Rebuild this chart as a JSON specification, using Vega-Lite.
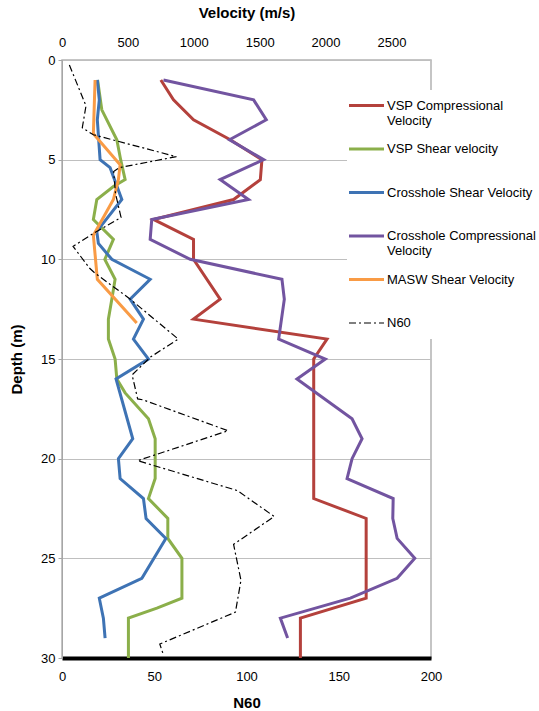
{
  "$schema": "https://vega.github.io/schema/vega-lite/v6.json",
  "autosize": {"type": "none"},
  "padding": {"left": 62, "top": 60, "right": 108, "bottom": 53},
  "width": 369,
  "height": 598,
  "config": {
    "font": "Liberation Sans",
    "view": {"stroke": "#B3B3B3", "strokeWidth": 1.5},
    "axis": {
      "labelFont": "Liberation Sans",
      "labelFontSize": 13,
      "labelColor": "#000",
      "labelFlush": false,
      "titleFont": "Liberation Sans",
      "titleFontSize": 15,
      "titleFontWeight": "bold",
      "titleColor": "#000",
      "gridColor": "#BFBFBF",
      "gridWidth": 1,
      "domainColor": "#A6A6A6",
      "tickColor": "#A6A6A6"
    }
  },
  "datasets": {
    "vel": [
      {"series": "VSP Compressional Velocity", "depth": 1, "v": 750},
      {"series": "VSP Compressional Velocity", "depth": 2, "v": 846},
      {"series": "VSP Compressional Velocity", "depth": 3, "v": 998},
      {"series": "VSP Compressional Velocity", "depth": 4, "v": 1277},
      {"series": "VSP Compressional Velocity", "depth": 5, "v": 1517},
      {"series": "VSP Compressional Velocity", "depth": 6, "v": 1505},
      {"series": "VSP Compressional Velocity", "depth": 7, "v": 1302},
      {"series": "VSP Compressional Velocity", "depth": 8, "v": 694},
      {"series": "VSP Compressional Velocity", "depth": 9, "v": 998},
      {"series": "VSP Compressional Velocity", "depth": 10, "v": 998},
      {"series": "VSP Compressional Velocity", "depth": 12, "v": 1200},
      {"series": "VSP Compressional Velocity", "depth": 13, "v": 998},
      {"series": "VSP Compressional Velocity", "depth": 14, "v": 2011},
      {"series": "VSP Compressional Velocity", "depth": 15, "v": 1910},
      {"series": "VSP Compressional Velocity", "depth": 22, "v": 1910},
      {"series": "VSP Compressional Velocity", "depth": 23, "v": 2308},
      {"series": "VSP Compressional Velocity", "depth": 27, "v": 2308},
      {"series": "VSP Compressional Velocity", "depth": 28, "v": 1809},
      {"series": "VSP Compressional Velocity", "depth": 30, "v": 1809},

      {"series": "VSP Shear velocity", "depth": 1, "v": 270},
      {"series": "VSP Shear velocity", "depth": 2.5, "v": 302},
      {"series": "VSP Shear velocity", "depth": 4, "v": 416},
      {"series": "VSP Shear velocity", "depth": 5, "v": 445},
      {"series": "VSP Shear velocity", "depth": 6, "v": 479},
      {"series": "VSP Shear velocity", "depth": 6.35, "v": 390},
      {"series": "VSP Shear velocity", "depth": 7, "v": 264},
      {"series": "VSP Shear velocity", "depth": 8, "v": 238},
      {"series": "VSP Shear velocity", "depth": 9, "v": 390},
      {"series": "VSP Shear velocity", "depth": 10, "v": 325},
      {"series": "VSP Shear velocity", "depth": 11, "v": 403},
      {"series": "VSP Shear velocity", "depth": 12, "v": 378},
      {"series": "VSP Shear velocity", "depth": 13, "v": 352},
      {"series": "VSP Shear velocity", "depth": 14, "v": 352},
      {"series": "VSP Shear velocity", "depth": 15, "v": 403},
      {"series": "VSP Shear velocity", "depth": 16, "v": 416},
      {"series": "VSP Shear velocity", "depth": 16.7, "v": 479},
      {"series": "VSP Shear velocity", "depth": 18, "v": 656},
      {"series": "VSP Shear velocity", "depth": 19, "v": 707},
      {"series": "VSP Shear velocity", "depth": 21, "v": 707},
      {"series": "VSP Shear velocity", "depth": 22, "v": 656},
      {"series": "VSP Shear velocity", "depth": 23, "v": 803},
      {"series": "VSP Shear velocity", "depth": 24, "v": 803},
      {"series": "VSP Shear velocity", "depth": 25, "v": 910},
      {"series": "VSP Shear velocity", "depth": 27, "v": 910},
      {"series": "VSP Shear velocity", "depth": 27.5, "v": 720},
      {"series": "VSP Shear velocity", "depth": 28, "v": 504},
      {"series": "VSP Shear velocity", "depth": 30, "v": 504},

      {"series": "Crosshole Shear Velocity", "depth": 1, "v": 268},
      {"series": "Crosshole Shear Velocity", "depth": 2, "v": 283},
      {"series": "Crosshole Shear Velocity", "depth": 3, "v": 268},
      {"series": "Crosshole Shear Velocity", "depth": 5, "v": 289},
      {"series": "Crosshole Shear Velocity", "depth": 5.4, "v": 365},
      {"series": "Crosshole Shear Velocity", "depth": 7, "v": 454},
      {"series": "Crosshole Shear Velocity", "depth": 8.6, "v": 264},
      {"series": "Crosshole Shear Velocity", "depth": 9.2, "v": 276},
      {"series": "Crosshole Shear Velocity", "depth": 10, "v": 378},
      {"series": "Crosshole Shear Velocity", "depth": 11, "v": 669},
      {"series": "Crosshole Shear Velocity", "depth": 12, "v": 517},
      {"series": "Crosshole Shear Velocity", "depth": 13, "v": 618},
      {"series": "Crosshole Shear Velocity", "depth": 14, "v": 542},
      {"series": "Crosshole Shear Velocity", "depth": 15, "v": 656},
      {"series": "Crosshole Shear Velocity", "depth": 16, "v": 410},
      {"series": "Crosshole Shear Velocity", "depth": 19, "v": 537},
      {"series": "Crosshole Shear Velocity", "depth": 20, "v": 428},
      {"series": "Crosshole Shear Velocity", "depth": 21, "v": 441},
      {"series": "Crosshole Shear Velocity", "depth": 22, "v": 618},
      {"series": "Crosshole Shear Velocity", "depth": 23, "v": 638},
      {"series": "Crosshole Shear Velocity", "depth": 24, "v": 788},
      {"series": "Crosshole Shear Velocity", "depth": 26, "v": 606},
      {"series": "Crosshole Shear Velocity", "depth": 27, "v": 283},
      {"series": "Crosshole Shear Velocity", "depth": 28, "v": 314},
      {"series": "Crosshole Shear Velocity", "depth": 29, "v": 327},

      {"series": "Crosshole Compressional Velocity", "depth": 1, "v": 770},
      {"series": "Crosshole Compressional Velocity", "depth": 2, "v": 1454},
      {"series": "Crosshole Compressional Velocity", "depth": 3, "v": 1550},
      {"series": "Crosshole Compressional Velocity", "depth": 4, "v": 1271},
      {"series": "Crosshole Compressional Velocity", "depth": 5, "v": 1530},
      {"series": "Crosshole Compressional Velocity", "depth": 6, "v": 1200},
      {"series": "Crosshole Compressional Velocity", "depth": 7, "v": 1415},
      {"series": "Crosshole Compressional Velocity", "depth": 8, "v": 681},
      {"series": "Crosshole Compressional Velocity", "depth": 9, "v": 669},
      {"series": "Crosshole Compressional Velocity", "depth": 10, "v": 973},
      {"series": "Crosshole Compressional Velocity", "depth": 11, "v": 1669},
      {"series": "Crosshole Compressional Velocity", "depth": 12, "v": 1687},
      {"series": "Crosshole Compressional Velocity", "depth": 14, "v": 1644},
      {"series": "Crosshole Compressional Velocity", "depth": 15, "v": 1998},
      {"series": "Crosshole Compressional Velocity", "depth": 16, "v": 1783},
      {"series": "Crosshole Compressional Velocity", "depth": 18, "v": 2201},
      {"series": "Crosshole Compressional Velocity", "depth": 19, "v": 2277},
      {"series": "Crosshole Compressional Velocity", "depth": 20, "v": 2201},
      {"series": "Crosshole Compressional Velocity", "depth": 21, "v": 2163},
      {"series": "Crosshole Compressional Velocity", "depth": 22, "v": 2513},
      {"series": "Crosshole Compressional Velocity", "depth": 23, "v": 2510},
      {"series": "Crosshole Compressional Velocity", "depth": 24, "v": 2543},
      {"series": "Crosshole Compressional Velocity", "depth": 25, "v": 2677},
      {"series": "Crosshole Compressional Velocity", "depth": 26, "v": 2543},
      {"series": "Crosshole Compressional Velocity", "depth": 27, "v": 2188},
      {"series": "Crosshole Compressional Velocity", "depth": 28, "v": 1657},
      {"series": "Crosshole Compressional Velocity", "depth": 29, "v": 1712},

      {"series": "MASW Shear Velocity", "depth": 1, "v": 251},
      {"series": "MASW Shear Velocity", "depth": 3.7, "v": 238},
      {"series": "MASW Shear Velocity", "depth": 5.25, "v": 441},
      {"series": "MASW Shear Velocity", "depth": 6, "v": 428},
      {"series": "MASW Shear Velocity", "depth": 7, "v": 390},
      {"series": "MASW Shear Velocity", "depth": 8.8, "v": 238},
      {"series": "MASW Shear Velocity", "depth": 11, "v": 268},
      {"series": "MASW Shear Velocity", "depth": 13.2, "v": 567}
    ],
    "n60": [
      {"series": "N60", "depth": 0.25, "n": 4},
      {"series": "N60", "depth": 2.3, "n": 13},
      {"series": "N60", "depth": 3.4, "n": 11},
      {"series": "N60", "depth": 3.75, "n": 17},
      {"series": "N60", "depth": 4.85, "n": 62},
      {"series": "N60", "depth": 5.4, "n": 31},
      {"series": "N60", "depth": 5.6, "n": 28},
      {"series": "N60", "depth": 6.7, "n": 29},
      {"series": "N60", "depth": 7.9, "n": 32},
      {"series": "N60", "depth": 8.7, "n": 17},
      {"series": "N60", "depth": 9.35, "n": 6},
      {"series": "N60", "depth": 10.45, "n": 15},
      {"series": "N60", "depth": 10.7, "n": 18},
      {"series": "N60", "depth": 12, "n": 37},
      {"series": "N60", "depth": 14, "n": 63},
      {"series": "N60", "depth": 14.9, "n": 48},
      {"series": "N60", "depth": 15.8, "n": 38},
      {"series": "N60", "depth": 17, "n": 41},
      {"series": "N60", "depth": 17.05, "n": 44},
      {"series": "N60", "depth": 18.6, "n": 90},
      {"series": "N60", "depth": 20.1, "n": 41},
      {"series": "N60", "depth": 21.6, "n": 95},
      {"series": "N60", "depth": 22.9, "n": 115},
      {"series": "N60", "depth": 24.3, "n": 93},
      {"series": "N60", "depth": 26.1, "n": 97},
      {"series": "N60", "depth": 27.7, "n": 94},
      {"series": "N60", "depth": 29.3, "n": 53},
      {"series": "N60", "depth": 29.85, "n": 55}
    ]
  },
  "layer": [
    {
      "data": {"name": "vel"},
      "mark": {"type": "line", "strokeWidth": 3},
      "encoding": {
        "x": {
          "field": "v",
          "type": "quantitative",
          "scale": {"domain": [0, 2800], "nice": false, "zero": false},
          "axis": {
            "orient": "top",
            "title": "Velocity (m/s)",
            "values": [0, 500, 1000, 1500, 2000, 2500],
            "format": "d",
            "grid": false,
            "ticks": false,
            "domain": false,
            "labelPadding": 11,
            "titlePadding": 16
          }
        },
        "y": {
          "field": "depth",
          "type": "quantitative",
          "scale": {"domain": [0, 30], "reverse": true, "nice": false},
          "axis": {
            "title": "Depth (m)",
            "values": [0, 5, 10, 15, 20, 25, 30],
            "grid": true,
            "tickSize": 4,
            "labelPadding": 3,
            "titlePadding": 16
          }
        },
        "color": {
          "field": "series",
          "type": "nominal",
          "scale": {
            "domain": ["VSP Compressional Velocity", "VSP Shear velocity", "Crosshole Shear Velocity", "Crosshole Compressional Velocity", "MASW Shear Velocity", "N60"],
            "range": ["#B4413C", "#8BAF4A", "#3E73B4", "#7254A0", "#F99B45", "#000000"]
          },
          "legend": {
            "orient": "none",
            "legendX": 285,
            "legendY": 30,
            "title": null,
            "fillColor": "white",
            "padding": 9,
            "symbolType": "stroke",
            "symbolSize": 1225,
            "symbolStrokeWidth": 3,
            "symbolOffset": 4,
            "labelOffset": 14,
            "labelFont": "Liberation Sans",
            "labelFontSize": 13,
            "labelColor": "#000",
            "labelLimit": 250,
            "gridAlign": "all",
            "rowPadding": 14.5,
            "labelExpr": "datum.label == 'VSP Compressional Velocity' ? ['VSP Compressional', 'Velocity'] : datum.label == 'Crosshole Compressional Velocity' ? ['Crosshole Compressional', 'Velocity'] : datum.label",
            "encode": {
              "symbols": {
                "update": {
                  "strokeWidth": {"signal": "datum.value == 'N60' ? 1.2 : 3"},
                  "strokeDash": {"signal": "datum.value == 'N60' ? [7, 3, 2, 3] : []"}
                }
              },
              "labels": {
                "update": {
                  "lineHeight": {"value": 15}
                }
              }
            }
          }
        },
        "order": {"field": "depth", "type": "quantitative"}
      }
    },
    {
      "data": {"name": "n60"},
      "mark": {"type": "line", "strokeWidth": 1.2, "strokeDash": [7, 3, 2, 3]},
      "encoding": {
        "x": {
          "field": "n",
          "type": "quantitative",
          "scale": {"domain": [0, 200], "nice": false},
          "axis": {
            "orient": "bottom",
            "title": "N60",
            "values": [0, 50, 100, 150, 200],
            "grid": false,
            "ticks": false,
            "domainColor": "#000000",
            "domainWidth": 4,
            "labelPadding": 12,
            "titlePadding": 12
          }
        },
        "y": {
          "field": "depth",
          "type": "quantitative",
          "scale": {"domain": [0, 30], "reverse": true, "nice": false}
        },
        "color": {"field": "series", "type": "nominal"},
        "order": {"field": "depth", "type": "quantitative"}
      }
    }
  ],
  "resolve": {"scale": {"x": "independent"}}
}
